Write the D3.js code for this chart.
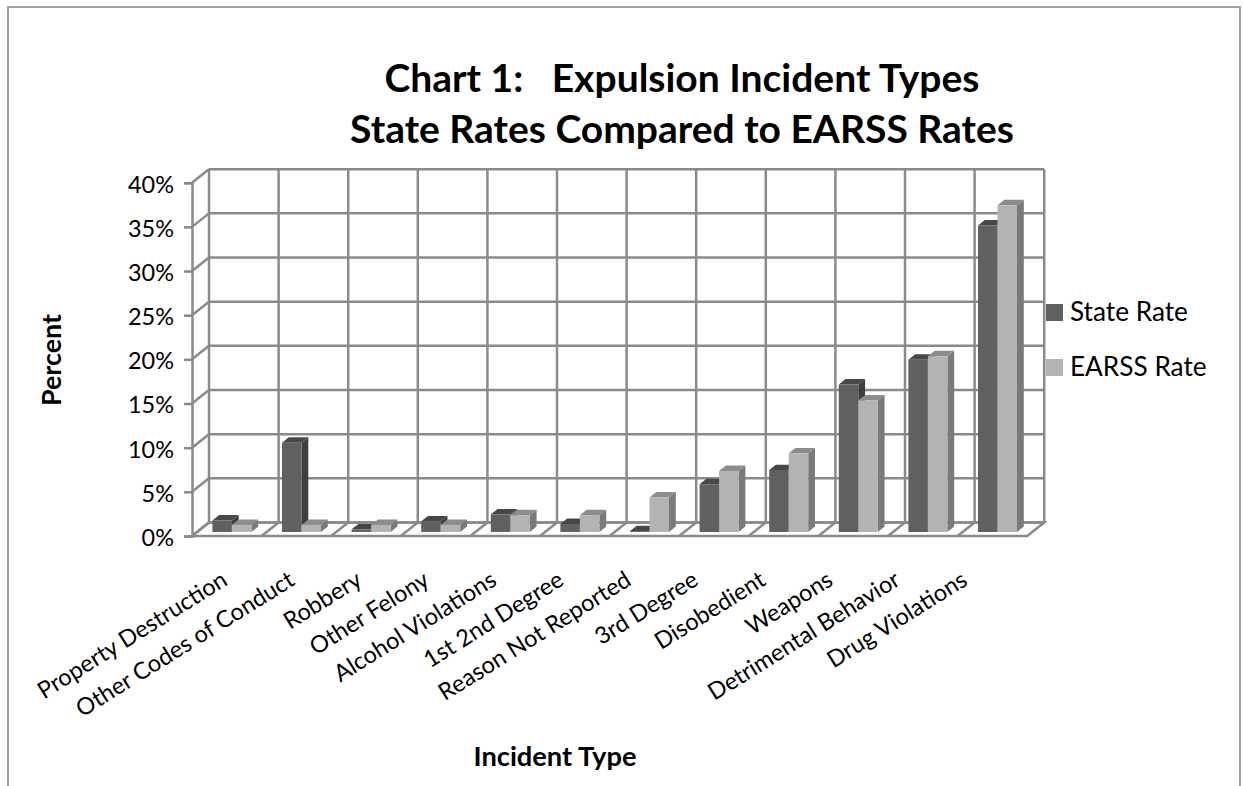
<!DOCTYPE html>
<html>
<head>
<meta charset="utf-8">
<script src="https://cdn.jsdelivr.net/npm/d3@7"></script>
<style>
  html, body { margin: 0; padding: 0; background: #fff; }
  svg { display: block; }
  text { font-family: Lato, "Open Sans", sans-serif; fill: #000; }
</style>
</head>
<body>
<svg id="chart" width="1244" height="786"></svg>
<script>
// Incident categories, in plotted order
const categories = [
  "Property Destruction", "Other Codes of Conduct", "Robbery", "Other Felony",
  "Alcohol Violations", "1st 2nd Degree", "Reason Not Reported", "3rd Degree",
  "Disobedient", "Weapons", "Detrimental Behavior", "Drug Violations"
];
// Percent of expulsions per incident type
const stateRate = [1.3, 10.1, 0.3, 1.2, 2.0, 0.9, 0.1, 5.4, 7.0, 16.7, 19.5, 34.7];
const earssRate = [0.8, 0.8, 0.8, 0.8, 1.9, 1.9, 3.9, 6.9, 8.9, 14.9, 19.9, 37.0];
const seriesNames = ["State Rate", "EARSS Rate"];
const yTicks = [0, 5, 10, 15, 20, 25, 30, 35, 40];
const titleLines = ["Chart 1:   Expulsion Incident Types", "State Rates Compared to EARSS Rates"];

const svg = d3.select("#chart");

// font size that makes a string span a given width
function fitSize(str, weight, width) {
  const t = svg.append("text").attr("font-size", 100).attr("font-weight", weight)
    .style("white-space", "pre").text(str);
  const len = t.node().getComputedTextLength();
  t.remove();
  return 100 * width / len;
}

// outer frame
svg.append("rect").attr("x", 8).attr("y", 7).attr("width", 1232).attr("height", 800)
  .attr("fill", "none").attr("stroke", "#8c8c8c").attr("stroke-width", 1.6);

// oblique depth of the plot box
const DX = 17, DY = 13.5;
const ZF = 0.3, ZB = 0.7;   // bar front / back depth
const left = 192, right = 1027.2;

const x = d3.scaleBand().domain(categories).range([left, right]);
const xs = d3.scaleBand().domain(seriesNames).range([0, x.bandwidth()]).paddingOuter(0.785);
const y = d3.scaleLinear().domain([0, 40]).range([536, 182.7]);
const colors = {
  "State Rate": { front: "#606060", side: "#3e3e3e", top: "#474747" },
  "EARSS Rate": { front: "#b3b3b3", side: "#7a7a7a", top: "#8c8c8c" }
};
const gridColor = "#8a8a8a";
const gridWidth = 2.5;

const grid = svg.append("g").attr("stroke", gridColor).attr("stroke-width", gridWidth).attr("fill", "none");

// floor
const y0 = y(0);
grid.append("path")
  .attr("fill", "#fff")
  .attr("d", `M${left},${y0} L${right},${y0} L${right + DX},${y0 - DY} L${left + DX},${y0 - DY} Z`);
categories.slice(1).forEach(c => {
  const xi = x(c);
  grid.append("line").attr("x1", xi).attr("y1", y0).attr("x2", xi + DX).attr("y2", y0 - DY);
});

// back wall: horizontal gridlines
yTicks.forEach(t => {
  grid.append("line")
    .attr("x1", left + DX).attr("x2", right + DX)
    .attr("y1", y(t) - DY).attr("y2", y(t) - DY);
  // side wall
  grid.append("line")
    .attr("x1", left).attr("y1", y(t))
    .attr("x2", left + DX).attr("y2", y(t) - DY);
});
// back wall: vertical gridlines at category boundaries
categories.map(c => x(c)).concat([right]).forEach(xv => {
  grid.append("line")
    .attr("x1", xv + DX).attr("x2", xv + DX)
    .attr("y1", y(0) - DY).attr("y2", y(40) - DY);
});

// value axis at the front
const yAxis = d3.axisLeft(y).tickValues(yTicks).tickFormat(d => d + "%").tickSize(8).tickPadding(10);
const tickFont = fitSize("40%", "normal", 46);
const ax = svg.append("g").attr("transform", `translate(${left},0)`).call(yAxis);
ax.select(".domain").attr("stroke", gridColor).attr("stroke-width", gridWidth);
ax.selectAll(".tick line").attr("stroke", gridColor).attr("stroke-width", gridWidth);
ax.selectAll(".tick text")
  .attr("font-family", "Lato, sans-serif").attr("font-size", tickFont)
  .attr("fill", "#000").attr("dy", "0.4em");

// 3D columns, drawn left to right
const barData = [];
categories.forEach((c, i) => {
  seriesNames.forEach((s, j) => {
    barData.push({ cat: c, series: s, value: j === 0 ? stateRate[i] : earssRate[i] });
  });
});

const bars = svg.append("g");
barData.forEach(d => {
  const xa = x(d.cat) + xs(d.series);
  const xb = xa + xs.bandwidth();
  const yt = y(d.value), yb = y(0);
  const col = colors[d.series];
  const P = (px, py, z) => [px + z * DX, py - z * DY];
  const poly = pts => "M" + pts.map(p => p.join(",")).join("L") + "Z";
  const g = bars.append("g");
  // right side
  g.append("path").attr("fill", col.side)
    .attr("d", poly([P(xb, yt, ZF), P(xb, yt, ZB), P(xb, yb, ZB), P(xb, yb, ZF)]));
  // top
  g.append("path").attr("fill", col.top)
    .attr("d", poly([P(xa, yt, ZF), P(xb, yt, ZF), P(xb, yt, ZB), P(xa, yt, ZB)]));
  // front
  g.append("path").attr("fill", col.front)
    .attr("d", poly([P(xa, yt, ZF), P(xb, yt, ZF), P(xb, yb, ZF), P(xa, yb, ZF)]));
});

// category labels, rotated
const xl = d3.scalePoint().domain(categories).range([229, 969]);
const catFont = fitSize("Drug Violations", "normal", 160);
svg.append("g").selectAll("text").data(categories).join("text")
  .attr("transform", d => `translate(${xl(d)},584) rotate(-32)`)
  .attr("text-anchor", "end")
  .attr("font-size", catFont)
  .text(d => d);

// title
const titleFont = fitSize(titleLines[1], "bold", 664);
svg.append("g").selectAll("text").data(titleLines).join("text")
  .attr("x", 682).attr("y", (d, i) => 92 + i * 51)
  .attr("text-anchor", "middle").attr("font-weight", "bold")
  .attr("font-size", titleFont).style("white-space", "pre")
  .text(d => d);

// axis titles
svg.append("text")
  .attr("transform", "translate(61,360) rotate(-90)")
  .attr("text-anchor", "middle").attr("font-weight", "bold")
  .attr("font-size", fitSize("Percent", "bold", 92))
  .text("Percent");
svg.append("text")
  .attr("x", 555).attr("y", 766)
  .attr("text-anchor", "middle").attr("font-weight", "bold")
  .attr("font-size", fitSize("Incident Type", "bold", 163))
  .text("Incident Type");

// legend
const legFont = fitSize("State Rate", "normal", 118);
const leg = svg.append("g").attr("transform", "translate(1046,304)");
seriesNames.forEach((s, i) => {
  const row = leg.append("g").attr("transform", `translate(0,${i * 55})`);
  row.append("rect").attr("width", 17).attr("height", 17).attr("fill", colors[s].front);
  row.append("text").attr("x", 24).attr("y", 17).attr("font-size", legFont).text(s);
});
</script>
</body>
</html>
